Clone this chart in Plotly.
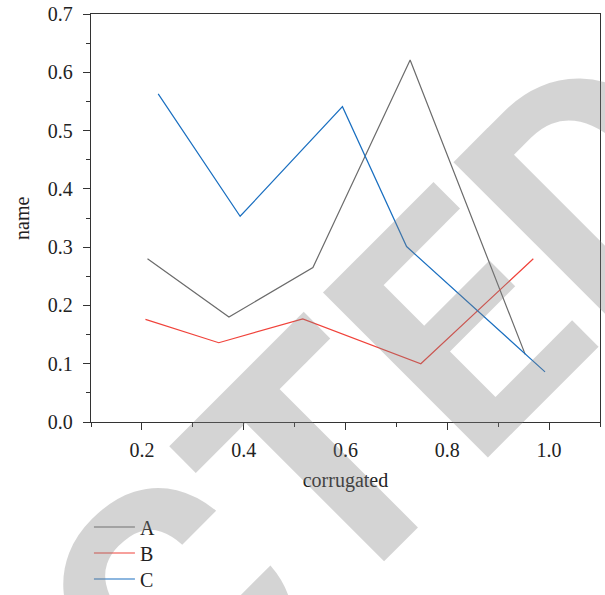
import plotly.graph_objects as go

# Data
a_x = [0.211, 0.371, 0.536, 0.727, 0.953]
a_y = [0.280, 0.180, 0.265, 0.621, 0.116]
b_x = [0.207, 0.351, 0.516, 0.748, 0.969]
b_y = [0.176, 0.136, 0.177, 0.100, 0.280]
c_x = [0.232, 0.393, 0.594, 0.720, 0.992]
c_y = [0.563, 0.353, 0.541, 0.301, 0.086]
series_names = ["A", "B", "C"]
x_title = "corrugated"
y_title = "name"
watermark = "RETRACTED"

colors = ["#6b6b6b", "#f0423a", "#1a6fc0"]
serif = "Liberation Serif, Times New Roman, serif"
legend_ids = ["legend", "legend2", "legend3"]
legend_rows = [0.1143, 0.0706, 0.0269]

fig = go.Figure()
for name, xs, ys, col, lg in zip(series_names, [a_x, b_x, c_x], [a_y, b_y, c_y], colors, legend_ids):
    fig.add_trace(go.Scatter(x=xs, y=ys, mode="lines", name=name, legend=lg,
                             line=dict(color=col, width=1.2)))

axis_common = dict(
    showline=True, linecolor="#333333", linewidth=1.3, mirror=True,
    ticks="outside", ticklen=7, tickwidth=1.2, tickcolor="#333333",
    showgrid=False, zeroline=False,
    tickfont=dict(family=serif, size=20, color="#222222"),
)

fig.update_xaxes(range=[0.1, 1.1], tick0=0.2, dtick=0.2, tickformat=".1f",
                 ticklabelstandoff=3,
                 minor=dict(dtick=0.1, tick0=0.1, ticklen=4, tickcolor="#333333", ticks="outside"),
                 title=dict(text=x_title, font=dict(family=serif, size=20, color="#222222"), standoff=12),
                 **axis_common)
fig.update_yaxes(range=[0, 0.7], tick0=0, dtick=0.1, tickformat=".1f",
                 ticklabelstandoff=6, ticklabeloverflow="allow",
                 minor=dict(dtick=0.05, tick0=0, ticklen=4, tickcolor="#333333", ticks="outside"),
                 **axis_common)

# y-axis title
fig.add_annotation(
    text=y_title, xref="paper", yref="paper", x=-0.1356, y=0.5,
    xanchor="center", yanchor="middle", showarrow=False, textangle=-90,
    font=dict(family=serif, size=20, color="#222222"),
)

# watermark
fig.add_annotation(
    text=watermark, xref="paper", yref="paper", x=-0.1297, y=-0.8335,
    xanchor="center", yanchor="middle", showarrow=False, textangle=-45,
    font=dict(family="Roboto, Liberation Sans, Arial, sans-serif",
              size=328, color="rgba(128,128,128,0.34)", weight="bold"),
)

legend_style = dict(xref="container", yref="container", x=0.147,
                    xanchor="left", yanchor="middle", itemwidth=41,
                    font=dict(family=serif, size=20, color="#222222"),
                    bgcolor="rgba(0,0,0,0)")

fig.update_layout(
    width=605, height=595,
    margin=dict(l=91, r=5, t=14, b=172.5, autoexpand=False),
    paper_bgcolor="white", plot_bgcolor="rgba(0,0,0,0)",
    showlegend=True,
    legend=dict(y=legend_rows[0], **legend_style),
    legend2=dict(y=legend_rows[1], **legend_style),
    legend3=dict(y=legend_rows[2], **legend_style),
)

# remove the default 8px page margin so the figure fills the window exactly
fig.write_html("out.html", config={"displayModeBar": False},
               post_script="document.body.style.margin='0';")
